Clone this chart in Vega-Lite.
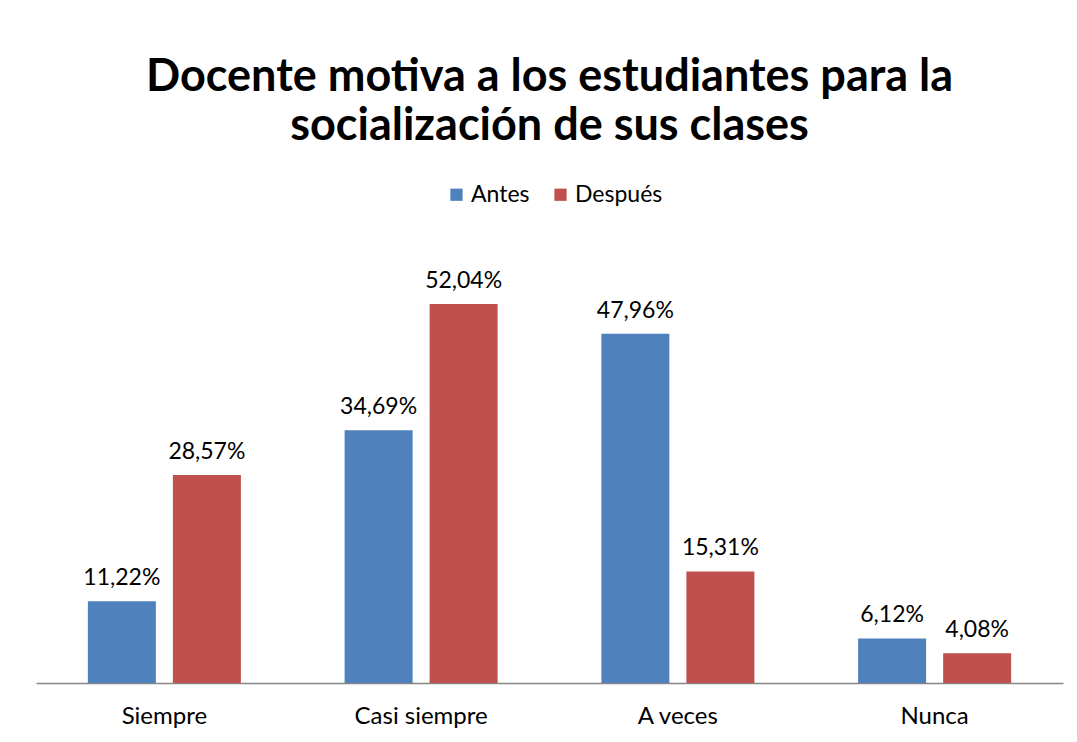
{
  "$schema": "https://vega.github.io/schema/vega-lite/v6.json",
  "autosize": "none",
  "width": 1027,
  "height": 437,
  "padding": {"left": 36, "top": 246, "right": 14, "bottom": 59},
  "background": "white",
  "config": {
    "locale": {"number": {"decimal": ",", "thousands": ".", "grouping": [3], "currency": ["", " €"]}},
    "view": {"stroke": null},
    "font": "Lato"
  },
  "title": {
    "text": ["Docente motiva a los estudiantes para la", "socialización de sus clases"],
    "font": "Lato",
    "fontSize": 45,
    "fontWeight": "bold",
    "color": "#000000",
    "anchor": "middle",
    "lineHeight": 49,
    "offset": 34
  },
  "data": {
    "values": [
      {"categoria": "Siempre", "momento": "Antes", "valor": 0.1122},
      {"categoria": "Siempre", "momento": "Después", "valor": 0.2857},
      {"categoria": "Casi siempre", "momento": "Antes", "valor": 0.3469},
      {"categoria": "Casi siempre", "momento": "Después", "valor": 0.5204},
      {"categoria": "A veces", "momento": "Antes", "valor": 0.4796},
      {"categoria": "A veces", "momento": "Después", "valor": 0.1531},
      {"categoria": "Nunca", "momento": "Antes", "valor": 0.0612},
      {"categoria": "Nunca", "momento": "Después", "valor": 0.0408}
    ]
  },
  "encoding": {
    "x": {
      "field": "categoria",
      "type": "nominal",
      "sort": ["Siempre", "Casi siempre", "A veces", "Nunca"],
      "scale": {"paddingInner": 0, "paddingOuter": 0},
      "axis": {
        "title": null,
        "labelAngle": 0,
        "labelFont": "Lato",
        "labelFontSize": 24,
        "labelColor": "#000000",
        "labelPadding": 21,
        "ticks": false,
        "domainColor": "#868686",
        "domainWidth": 1.5
      }
    },
    "xOffset": {
      "field": "momento",
      "type": "nominal",
      "sort": ["Antes", "Después"],
      "scale": {"paddingInner": 0.2, "paddingOuter": 0.61}
    },
    "y": {
      "field": "valor",
      "type": "quantitative",
      "scale": {"domain": [0, 0.6], "nice": false},
      "axis": null
    }
  },
  "layer": [
    {
      "mark": {"type": "bar"},
      "encoding": {
        "color": {
          "field": "momento",
          "type": "nominal",
          "sort": ["Antes", "Después"],
          "scale": {"domain": ["Antes", "Después"], "range": ["#4F81BD", "#C0504D"]},
          "legend": {
            "title": null,
            "orient": "none",
            "direction": "horizontal",
            "legendX": 409,
            "legendY": -63,
            "symbolType": "square",
            "symbolSize": 150,
            "symbolStrokeWidth": 0,
            "labelFont": "Lato",
            "labelFontSize": 23,
            "labelColor": "#000000",
            "columnPadding": 19,
            "labelOffset": 3
          }
        }
      }
    },
    {
      "mark": {"type": "text", "baseline": "bottom", "dy": -11, "font": "Lato", "fontSize": 23, "color": "#000000"},
      "encoding": {
        "text": {"field": "valor", "type": "quantitative", "format": ".2%"}
      }
    }
  ]
}
